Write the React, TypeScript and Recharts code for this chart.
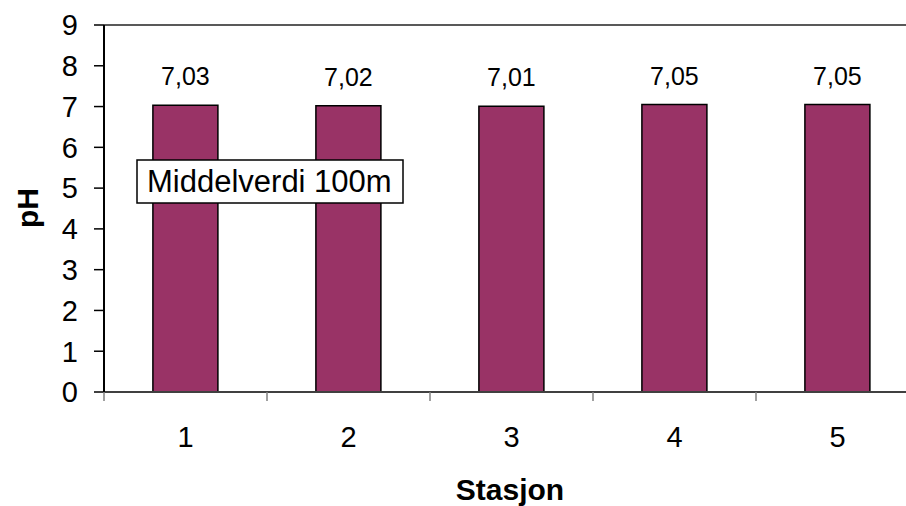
import React from 'react';
import { BarChart, Bar, XAxis, YAxis, LabelList, ReferenceLine } from 'recharts';

// station numbers and mean pH at 100 m
const stations = ['1', '2', '3', '4', '5'];
const phValues = [7.03, 7.02, 7.01, 7.05, 7.05];
const yTicks = [0, 1, 2, 3, 4, 5, 6, 7, 8, 9];

const data = stations.map((s, i) => ({ stasjon: s, ph: phValues[i] }));

const FONT = '"Liberation Sans", Arial, sans-serif';
const BAND = 163;

const XTick = (props: any) => {
  const { x, y, payload } = props;
  return (
    <g>
      <line x1={x - BAND / 2} y1={y} x2={x - BAND / 2} y2={y + 9} stroke="#808080" strokeWidth={1.5} />
      <text x={x} y={y + 55} textAnchor="middle" fontSize={29} fontFamily={FONT} fill="#000">
        {payload.value}
      </text>
    </g>
  );
};

// text box and axis titles drawn above the chart
const Overlay = () => (
  <svg width={906} height={506} style={{ position: 'absolute', left: 0, top: 0, pointerEvents: 'none' }}>
    <rect x={137} y={160} width={266} height={43} fill="#fff" stroke="#000" strokeWidth={1.5} />
    <text x={147} y={192} fontSize={31} fontFamily={FONT} fill="#000">Middelverdi 100m</text>
    <text x={510} y={500} textAnchor="middle" fontSize={30} fontWeight="bold" fontFamily={FONT} fill="#000">
      Stasjon
    </text>
    <text
      x={38}
      y={208}
      textAnchor="middle"
      fontSize={30}
      fontWeight="bold"
      fontFamily={FONT}
      fill="#000"
      transform="rotate(-90, 38, 208)"
    >
      pH
    </text>
  </svg>
);

export default function App() {
  return (
    <div style={{ position: 'absolute', left: 0, top: 0, width: 906, height: 506, overflow: 'hidden', background: '#fff' }}>
      <BarChart
        width={929}
        height={506}
        data={data}
        margin={{ top: 25, right: 10, left: 0, bottom: 0 }}
        barCategoryGap="30%"
      >
        <XAxis
          dataKey="stasjon"
          height={114}
          tickSize={0}
          tickMargin={0}
          tickLine={false}
          axisLine={{ stroke: '#404040', strokeWidth: 2 }}
          tick={<XTick />}
          interval={0}
        />
        <YAxis
          width={104}
          domain={[0, 9]}
          ticks={yTicks}
          interval={0}
          tickSize={10}
          tickMargin={16}
          axisLine={{ stroke: '#000', strokeWidth: 2 }}
          tickLine={{ stroke: '#000', strokeWidth: 1.5 }}
          tick={{ fontSize: 29, fontFamily: FONT, fill: '#000' }}
        />
        <ReferenceLine y={9} stroke="#222" strokeWidth={1.5} />
        <Bar dataKey="ph" fill="#993366" stroke="#000" strokeWidth={1.5} isAnimationActive={false}>
          <LabelList
            dataKey="ph"
            position="top"
            offset={20}
            formatter={(v: any) => Number(v).toFixed(2).replace('.', ',')}
            style={{ fontSize: 25, fontFamily: FONT, fill: '#000' }}
          />
        </Bar>
      </BarChart>
      <Overlay />
    </div>
  );
}
